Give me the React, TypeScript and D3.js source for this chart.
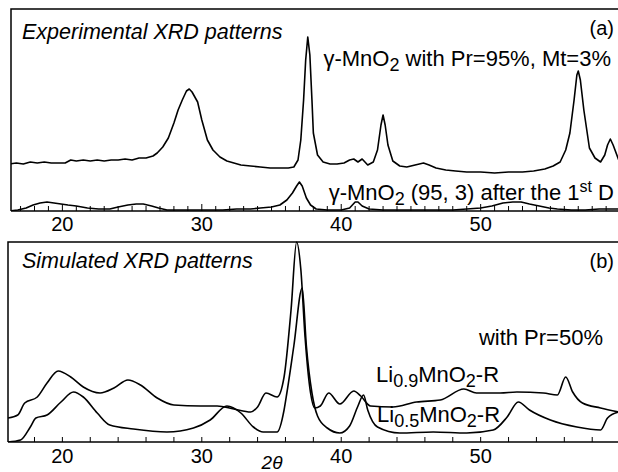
import React from 'react';
import * as d3 from 'd3';

// experimental pattern (a), gamma-MnO2 Pr=95% Mt=3%  [2theta, intensity]
const expPristine: [number, number][] = [
  [16.2, 47], [16.7, 48], [17.2, 47], [17.7, 49], [18.2, 48], [18.7, 49], [19.2, 48], [19.7, 48],
  [20.2, 48], [20.6, 51], [21.0, 50], [21.5, 51], [22.0, 50], [22.5, 51], [23.0, 50], [23.5, 51],
  [24.0, 51], [24.5, 52], [25.0, 51], [25.5, 53], [26.0, 53], [26.5, 55], [26.8, 58], [27.2, 64],
  [27.6, 73], [28.0, 88], [28.3, 101], [28.6, 111], [28.9, 120], [29.1, 122], [29.3, 119], [29.7, 109],
  [30.0, 91], [30.4, 71], [30.8, 61], [31.3, 54], [31.8, 50], [32.3, 48], [32.8, 46], [33.5, 45],
  [34.2, 44], [34.9, 43], [35.6, 43], [36.2, 43], [36.6, 44], [36.9, 51], [37.1, 71], [37.3, 111],
  [37.45, 151], [37.6, 174], [37.75, 156], [37.9, 111], [38.0, 78], [38.3, 56], [38.7, 49], [39.2, 47],
  [39.7, 47], [40.2, 48], [40.6, 51], [40.9, 52], [41.2, 49], [41.5, 52], [41.9, 46], [42.3, 49],
  [42.6, 61], [42.85, 86], [43.0, 96], [43.15, 86], [43.35, 66], [43.7, 50], [44.2, 45], [44.7, 44],
  [45.3, 46], [45.9, 48], [46.3, 46], [46.8, 43], [47.5, 41], [48.2, 40], [49.0, 39], [50.0, 39],
  [51.0, 38], [52.0, 39], [53.0, 39], [53.8, 40], [54.6, 42], [55.2, 45], [55.7, 49], [56.1, 61],
  [56.4, 78], [56.7, 111], [56.9, 136], [57.0, 140], [57.15, 131], [57.4, 101], [57.8, 63], [58.2, 53],
  [58.6, 49], [58.9, 56], [59.1, 66], [59.3, 72], [59.5, 66], [59.9, 51],
];

// experimental pattern (a), after the 1st discharge
const expDischarged: [number, number][] = [
  [16.2, 0], [16.8, 1], [17.4, 3], [17.9, 6], [18.4, 8], [18.9, 9], [19.4, 8], [19.9, 7],
  [20.4, 6], [21.0, 5], [21.8, 3], [22.6, 2], [23.4, 2], [24.0, 4], [24.7, 6], [25.3, 7],
  [25.8, 7], [26.4, 5], [26.9, 3], [27.5, 1], [28.5, 1], [29.5, 1], [30.5, 1], [31.5, 1],
  [32.5, 2], [33.5, 2], [34.2, 3], [35.0, 4], [35.6, 6], [36.1, 11], [36.5, 18], [36.8, 25],
  [37.0, 29], [37.2, 25], [37.5, 13], [37.8, 6], [38.2, 2], [39.0, 1], [40.0, 1], [40.6, 3],
  [41.0, 9], [41.2, 9], [41.5, 5], [42.0, 2], [43.0, 1], [44.0, 1], [45.0, 1], [46.0, 1],
  [47.0, 1], [48.0, 1], [49.0, 2], [50.0, 3], [50.8, 5], [51.6, 8], [52.3, 9], [52.9, 9],
  [53.5, 7], [54.2, 5], [54.9, 3], [55.5, 2], [56.5, 1], [57.5, 1], [58.5, 2], [59.9, 2],
];

// simulated patterns (b), Pr=50%
const simLi09: [number, number][] = [
  [16.1, 24], [16.8, 27], [17.3, 39], [18.2, 45], [18.9, 59], [19.7, 71], [20.6, 65], [21.5, 55],
  [22.7, 49], [23.7, 54], [24.7, 62], [25.6, 57], [26.8, 44], [28.0, 37], [29.9, 36], [31.1, 36],
  [32.3, 33], [33.5, 30], [34.0, 35], [34.6, 49], [35.4, 45], [35.9, 65], [36.4, 132], [36.8, 200],
  [37.1, 173], [37.4, 106], [37.8, 49], [38.1, 34], [38.5, 36], [39.1, 49], [39.9, 38], [40.9, 51],
  [41.4, 46], [42.1, 36], [43.7, 35], [45.4, 40], [47.1, 42], [48.8, 53], [49.7, 49], [51.4, 49],
  [52.6, 50], [54.5, 49], [55.5, 47], [56.1, 65], [56.6, 50], [57.3, 39], [58.6, 34], [59.9, 30],
];

const simLi05: [number, number][] = [
  [16.1, 0], [17.0, 2], [17.7, 15], [18.1, 24], [18.9, 27], [19.9, 40], [20.8, 50], [21.5, 45],
  [22.5, 29], [23.4, 17], [25.1, 13], [27.5, 10], [29.4, 14], [30.6, 22], [31.8, 36], [32.8, 29],
  [33.7, 15], [34.4, 10], [35.4, 10], [35.9, 32], [36.1, 49], [36.6, 96], [37.2, 154], [37.5, 96],
  [37.9, 49], [38.3, 26], [39.0, 14], [39.9, 9], [40.6, 16], [41.2, 36], [41.6, 47], [41.9, 32],
  [42.6, 15], [44.2, 9], [46.6, 10], [49.0, 9], [50.9, 12], [51.9, 25], [52.7, 40], [53.5, 32],
  [55.0, 22], [56.9, 15], [58.6, 12], [59.1, 24], [59.9, 30],
];

const tickLabels = [20, 30, 40, 50];

const font = '"Liberation Sans", Arial, Helvetica, sans-serif';

export default function App() {
  const W = 618;
  const x = d3.scaleLinear().domain([16.1, 59.85]).range([8, 618]);

  // panel a
  const aTop = 9, aBottom = 211, aLeft = 11;
  const yA = d3.scaleLinear().domain([0, 202]).range([aBottom, aTop]);
  // panel b
  const bTop = 242, bBottom = 442, bLeft = 8;
  const yB = d3.scaleLinear().domain([0, 200]).range([bBottom, bTop]);

  const lineA = d3.line<[number, number]>().x(d => x(d[0])).y(d => yA(d[1]));
  const lineB = d3.line<[number, number]>().x(d => x(d[0])).y(d => yB(d[1])).curve(d3.curveMonotoneX);

  const ticksA = d3.range(17, 60, 1);
  const ticksB = d3.range(18, 60, 2);

  return (
    <svg width={W} height={472} style={{ position: 'absolute', left: 0, top: 0, background: '#fff' }}
      fontFamily={font}>
      <defs>
        <clipPath id="clipA"><rect x={aLeft} y={aTop} width={W - aLeft} height={aBottom - aTop} /></clipPath>
        <clipPath id="clipB"><rect x={bLeft} y={bTop - 1} width={W - bLeft} height={bBottom - bTop + 1} /></clipPath>
      </defs>

      {/* panel (a) */}
      <path d={`M${aLeft},${aBottom}V${aTop}H${W}`} fill="none" stroke="#000" strokeWidth={1.5} />
      <line x1={aLeft} x2={W} y1={aBottom} y2={aBottom} stroke="#000" strokeWidth={1.5} />
      {ticksA.map(t => (
        <line key={t} x1={x(t)} x2={x(t)} y1={aBottom} y2={aBottom - (t % 10 === 0 ? 7 : 5)} stroke="#000" strokeWidth={1} />
      ))}
      <g clipPath="url(#clipA)" fill="none" stroke="#000" strokeWidth={1.6} strokeLinejoin="round">
        <path d={lineA(expPristine) || ''} />
        <path d={lineA(expDischarged) || ''} />
      </g>
      {tickLabels.map(t => (
        <text key={t} x={x(t)} y={231} fontSize={20} textAnchor="middle">{t}</text>
      ))}
      <text x={22} y={39} fontSize={21.5} fontStyle="italic">Experimental XRD patterns</text>
      <text x={614} y={35} fontSize={20} textAnchor="end">(a)</text>
      <text x={611} y={66} fontSize={22} textAnchor="end">
        <tspan>γ-MnO</tspan><tspan fontSize={18} dy={5}>2</tspan><tspan dy={-5}> with Pr=95%, Mt=3%</tspan>
      </text>
      <text x={614} y={200} fontSize={22} textAnchor="end">
        <tspan>γ-MnO</tspan><tspan fontSize={18} dy={5}>2</tspan><tspan dy={-5}> (95, 3) after the 1</tspan>
        <tspan fontSize={16} dy={-8}>st</tspan><tspan dy={8}> D</tspan>
      </text>

      {/* panel (b) */}
      <path d={`M${bLeft},${bBottom}V${bTop}H${W}`} fill="none" stroke="#000" strokeWidth={1.5} />
      <line x1={bLeft} x2={W} y1={bBottom} y2={bBottom} stroke="#000" strokeWidth={1.5} />
      {ticksB.map(t => (
        <line key={t} x1={x(t)} x2={x(t)} y1={bBottom} y2={bBottom - 5} stroke="#000" strokeWidth={1} />
      ))}
      <g clipPath="url(#clipB)" fill="none" stroke="#000" strokeWidth={1.6} strokeLinejoin="round">
        <path d={lineB(simLi09) || ''} />
        <path d={lineB(simLi05) || ''} />
      </g>
      {tickLabels.map(t => (
        <text key={t} x={x(t)} y={463} fontSize={20} textAnchor="middle">{t}</text>
      ))}
      <text x={272} y={469} fontSize={19} fontStyle="italic" textAnchor="middle">2θ</text>
      <text x={22} y={268} fontSize={21.5} fontStyle="italic">Simulated XRD patterns</text>
      <text x={614} y={268} fontSize={20} textAnchor="end">(b)</text>
      <text x={603} y={345} fontSize={22} textAnchor="end">with Pr=50%</text>
      <text x={376} y={382} fontSize={22}>
        <tspan>Li</tspan><tspan fontSize={18} dy={5}>0.9</tspan><tspan dy={-5}>MnO</tspan>
        <tspan fontSize={18} dy={5}>2</tspan><tspan dy={-5}>-R</tspan>
      </text>
      <text x={377} y={422} fontSize={22}>
        <tspan>Li</tspan><tspan fontSize={18} dy={5}>0.5</tspan><tspan dy={-5}>MnO</tspan>
        <tspan fontSize={18} dy={5}>2</tspan><tspan dy={-5}>-R</tspan>
      </text>
    </svg>
  );
}
